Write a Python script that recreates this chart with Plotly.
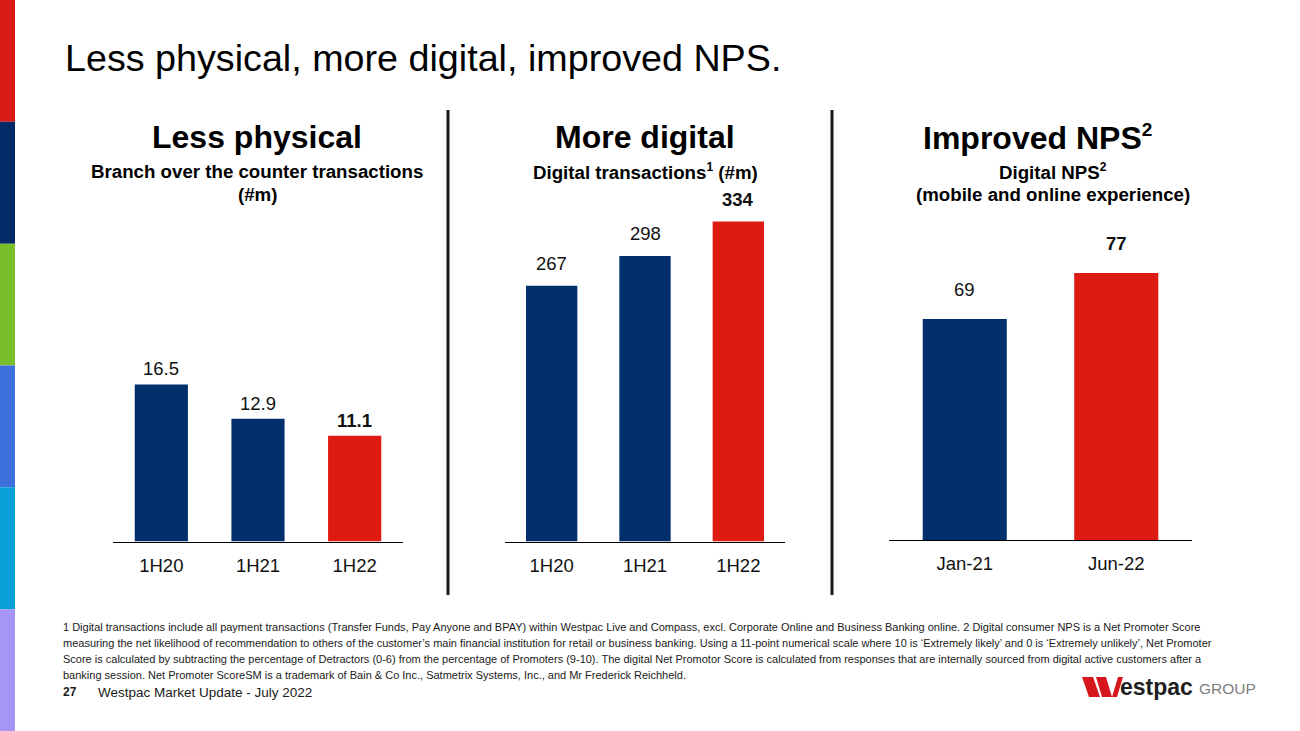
import plotly.graph_objects as go

W, H = 1300, 731

# ---- data ----
branch_periods = ["1H20", "1H21", "1H22"]
branch_values = [16.5, 12.9, 11.1]
digital_periods = ["1H20", "1H21", "1H22"]
digital_values = [267, 298, 334]
nps_periods = ["Jan-21", "Jun-22"]
nps_values = [69, 77]

NAVY = "#002F6C"
RED = "#DE1B13"
FONT = "Liberation Sans, Arial, sans-serif"


def px_x(x):
    return x / W


def px_y(y):
    return 1 - y / H


fig = go.Figure()

panels = [
    # (xs, ys, xaxis id, x domain px, baseline px, top px, y range, label gap, bar width)
    (branch_periods, branch_values, "", (113, 403), 541.5, 200, [0, 35.87], 5, 0.55),
    (digital_periods, digital_values, "2", (505, 785), 541.5, 200, [0, 356.5], 12, 0.55),
    (nps_periods, nps_values, "3", (889, 1192), 540, 200, [30.57, 89.70], 19, 0.555),
]

annotations = []
for xs, ys, ax, (x0, x1), base, top, yr, gap, bw in panels:
    colors = [NAVY] * (len(ys) - 1) + [RED]
    fig.add_trace(go.Bar(
        x=xs, y=ys, xaxis="x" + ax, yaxis="y" + ax,
        marker=dict(color=colors, line=dict(width=0)),
        width=bw, showlegend=False, hoverinfo="skip",
    ))
    fig.layout["xaxis" + ax] = dict(
        domain=[px_x(x0), px_x(x1)], anchor="y" + ax,
        showline=True, linecolor="#000000", linewidth=1,
        showgrid=False, zeroline=False, ticks="", fixedrange=True,
        tickfont=dict(family=FONT, size=18.5, color="#111111"),
        ticklabelstandoff=7,
    )
    fig.layout["yaxis" + ax] = dict(
        domain=[px_y(base), px_y(top)], anchor="x" + ax,
        range=yr, visible=False, fixedrange=True,
    )
    for i, (c, v) in enumerate(zip(xs, ys)):
        t = f"{v:g}"
        if i == len(ys) - 1:
            t = f"<b>{t}</b>"
        annotations.append(dict(
            x=c, y=v, xref="x" + ax, yref="y" + ax, text=t,
            showarrow=False, yanchor="bottom", yshift=gap - 2,
            font=dict(family=FONT, size=18.5, color="#111111"),
        ))


def txt(x, y, text, size, bold=False, anchor="center", color="#000000", family=FONT):
    annotations.append(dict(
        x=px_x(x), y=px_y(y), xref="paper", yref="paper",
        text=f"<b>{text}</b>" if bold else text,
        showarrow=False, xanchor=anchor, yanchor="middle",
        font=dict(family=family, size=size, color=color),
    ))


SUP_BIG = "<sup><span style='font-size:19px'>2</span></sup>"
SUP_SMALL1 = "<sup><span style='font-size:12px'>1</span></sup>"
SUP_SMALL2 = "<sup><span style='font-size:12px'>2</span></sup>"

# Title
txt(63, 58, "Less physical, more digital, improved NPS.", 37.7, anchor="left")

# Panel headings
txt(257, 137, "Less physical", 32, bold=True)
txt(257, 171, "Branch over the counter transactions", 18.7, bold=True)
txt(257, 194, "(#m)", 18.7, bold=True)
txt(645, 137, "More digital", 32, bold=True)
txt(645, 171, "Digital transactions" + SUP_SMALL1 + " (#m)", 18.7, bold=True)
txt(1037, 137, "Improved NPS" + SUP_BIG, 32, bold=True)
txt(1053, 171, "Digital NPS" + SUP_SMALL2, 18.7, bold=True)
txt(1053, 194, "(mobile and online experience)", 18.7, bold=True)

# Footnotes
foot_lines = [
    "1 Digital transactions include all payment transactions (Transfer Funds, Pay Anyone and BPAY) within Westpac Live and Compass, excl. Corporate Online and Business Banking online. 2 Digital consumer NPS is a Net Promoter Score",
    "measuring the net likelihood of recommendation to others of the customer\u2019s main financial institution for retail or business banking. Using a 11-point numerical scale where 10 is \u2018Extremely likely\u2019 and 0 is \u2018Extremely unlikely\u2019, Net Promoter",
    "Score is calculated by subtracting the percentage of Detractors (0-6) from the percentage of Promoters (9-10). The digital Net Promotor Score is calculated from responses that are internally sourced from digital active customers after a",
    "banking session. Net Promoter ScoreSM is a trademark of Bain & Co Inc., Satmetrix Systems, Inc., and Mr Frederick Reichheld.",
]
for i, line in enumerate(foot_lines):
    txt(61, 627 + i * 16, line, 11, anchor="left", color="#1a1a1a")

# Footer
txt(61, 692, "27", 12, bold=True, anchor="left", color="#1a1a1a")
txt(96, 692, "Westpac Market Update - July 2022", 13.5, anchor="left", color="#1a1a1a")

# Logo text
txt(1118, 687, "estpac", 23, bold=True, anchor="left", color="#1e1e1e")
txt(1197, 688, "GROUP", 15.5, anchor="left", color="#808080")

shapes = []
# Left colour stripe
stripe_colors = ["#DA1A14", "#012A66", "#78BE2A", "#3D6FDD", "#0A9FD6", "#A595F7"]
seg = H / len(stripe_colors)
for i, c in enumerate(stripe_colors):
    shapes.append(dict(type="rect", xref="paper", yref="paper",
                       x0=0, x1=px_x(15), y0=px_y((i + 1) * seg), y1=px_y(i * seg),
                       fillcolor=c, line=dict(width=0), layer="below"))

# Separator lines
for xv in (448, 832):
    shapes.append(dict(type="line", xref="paper", yref="paper",
                       x0=px_x(xv), x1=px_x(xv), y0=px_y(110), y1=px_y(595),
                       line=dict(color="#1a1a1a", width=3)))


# Westpac "W" mark
def poly(pts):
    d = "M " + " L ".join(f"{px_x(a)},{px_y(b)}" for a, b in pts) + " Z"
    return dict(type="path", xref="paper", yref="paper", path=d,
                fillcolor="#D5161C", line=dict(width=0))


shapes.append(poly([(1082, 677), (1093, 677), (1100, 697), (1089, 697)]))
shapes.append(poly([(1096, 677), (1106, 677), (1112, 697), (1102, 697)]))
shapes.append(poly([(1112, 697), (1118, 677), (1123, 677), (1117, 697)]))

fig.update_layout(
    width=W, height=H,
    margin=dict(l=0, r=0, t=0, b=0),
    paper_bgcolor="#FFFFFF", plot_bgcolor="rgba(0,0,0,0)",
    annotations=annotations, shapes=shapes,
    font=dict(family=FONT),
)

fig.write_html(
    "out.html",
    config={"displayModeBar": False, "staticPlot": False},
    post_script="document.body.style.margin='0px';document.body.style.padding='0px';document.body.style.overflow='hidden';",
)
